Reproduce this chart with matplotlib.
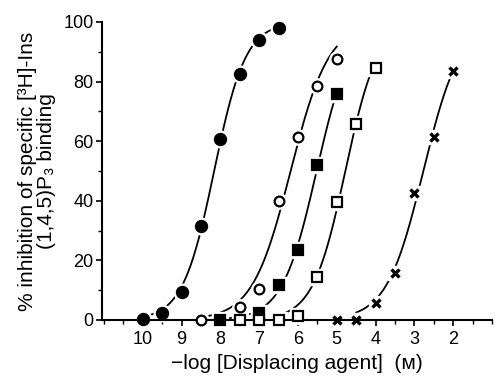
import numpy as np
import matplotlib
matplotlib.use('Agg')
import matplotlib.pyplot as plt
from matplotlib.ticker import MultipleLocator

plt.rcParams['font.family'] = ['Liberation Sans', 'DejaVu Sans']

# -log[agent] (M) and % inhibition
x_fc = [10.0, 9.5, 9.0, 8.5, 8.0, 7.5, 7.0, 6.5]
y_fc = [0.3, 2.3, 9.5, 31.5, 60.7, 82.5, 94.0, 98.0]

x_oc = [8.5, 7.5, 7.0, 6.5, 6.0, 5.5, 5.0]
y_oc = [0.0, 4.4, 10.4, 40.0, 61.5, 78.5, 87.6]

x_fs = [8.0, 7.0, 6.5, 6.0, 5.5, 5.0]
y_fs = [0.0, 2.3, 11.7, 23.5, 52.0, 76.0]

x_os = [7.5, 7.0, 6.5, 6.0, 5.5, 5.0, 4.5, 4.0]
y_os = [0.0, 0.0, 0.0, 1.3, 14.5, 39.7, 65.8, 84.5]

x_cr = [5.0, 4.5, 4.0, 3.5, 3.0, 2.5, 2.0]
y_cr = [0.0, 0.0, 5.6, 15.7, 42.7, 61.3, 83.5]

xticks = [10, 9, 8, 7, 6, 5, 4, 3, 2]
yticks = [0, 20, 40, 60, 80, 100]


def hill_fit(x, y):
    # crude grid search for a one-site curve, top fixed at 100
    x = np.asarray(x); y = np.asarray(y)
    best = None
    for p in np.arange(1.0, 11.0, 0.01):
        for n in np.arange(0.5, 2.0, 0.01):
            err = np.sum((100.0 / (1 + 10 ** (n * (x - p))) - y) ** 2)
            if best is None or err < best[0]:
                best = (err, p, n)
    return best[1], best[2]


def curve(ax, x, y, marker, fill, ms):
    p, n = hill_fit(x, y)
    zeros = [xi for xi, yi in zip(x, y) if yi <= 0.5]
    x0 = min(zeros) if zeros else max(x)
    xs = np.linspace(x0, min(x), 200)
    ax.plot(xs, 100.0 / (1 + 10 ** (n * (xs - p))), color='black', lw=1.3,
            zorder=2, clip_on=False)
    # white halo so the line breaks around each symbol
    ax.plot(x, y, ls='none', marker=marker if marker != 'x' else 's',
            ms=ms + 4, mfc='white', mec='white', zorder=2.2, clip_on=False)
    mew = 2.4 if marker == 'x' else 1.6
    ax.plot(x, y, ls='none', marker=marker, ms=ms, mfc=fill, mec='black',
            mew=mew, zorder=3, clip_on=False)


fig = plt.figure(figsize=(4.95, 3.79), dpi=100)
ax = fig.add_axes([102 / 495, 59 / 379, 390 / 495, 298 / 379])

curve(ax, x_fc, y_fc, 'o', 'black', 8)
curve(ax, x_oc, y_oc, 'o', 'white', 7)
curve(ax, x_fs, y_fs, 's', 'black', 7)
curve(ax, x_os, y_os, 's', 'white', 7)
curve(ax, x_cr, y_cr, 'x', 'black', 5.5)

ax.set_xlim(11.05, 1.0)
ax.set_ylim(0, 100)
for s in ['top', 'right']:
    ax.spines[s].set_visible(False)
for s in ['left', 'bottom']:
    ax.spines[s].set_linewidth(1.5)
    ax.spines[s].set_zorder(2.5)

ax.set_xticks(xticks)
ax.xaxis.set_minor_locator(MultipleLocator(0.5))
ax.set_yticks(yticks)
ax.yaxis.set_minor_locator(MultipleLocator(10))
ax.tick_params(which='major', length=4, width=1.2, labelsize=13, pad=4)
ax.tick_params(which='minor', length=3, width=1.0)
ax.tick_params(axis='y', which='major', pad=2)

ax.set_xlabel('\u2212log [Displacing agent]  (\u1d0d)', fontsize=15, labelpad=4)
ax.set_ylabel('% inhibition of specific [\u00b3H]-Ins\n(1,4,5)P\u2083 binding',
              fontsize=15, labelpad=5, linespacing=1.05)

plt.savefig('out.png', dpi=100)
